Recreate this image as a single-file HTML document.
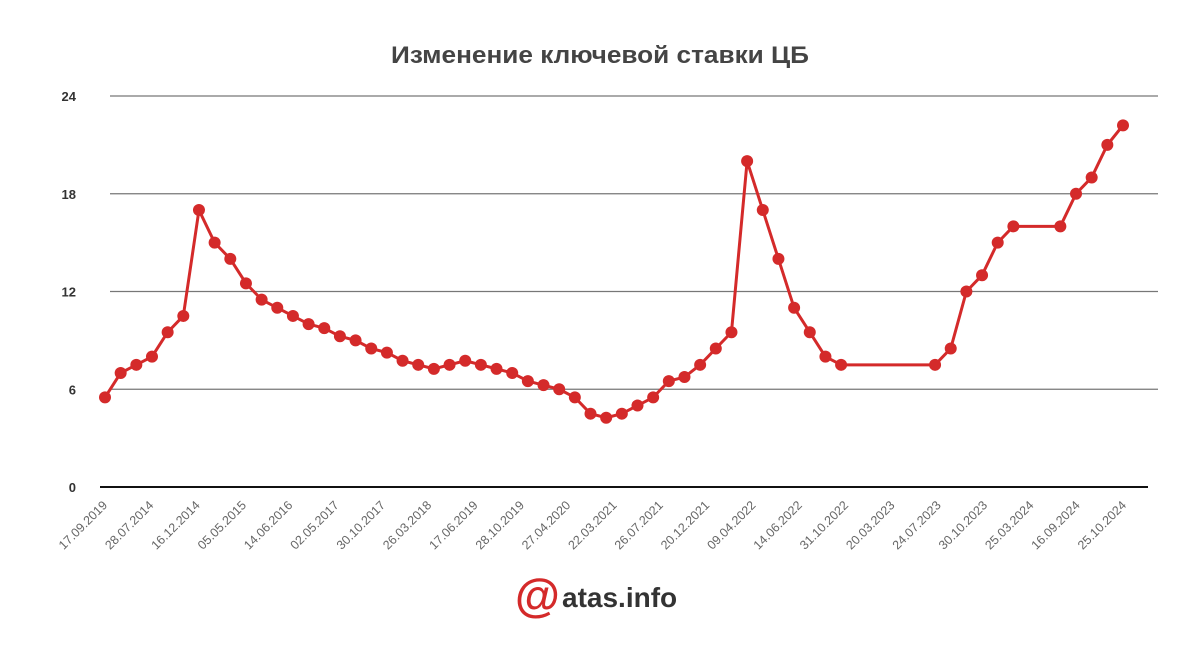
<!DOCTYPE html>
<html><head><meta charset="utf-8"><style>
body{margin:0;background:#fff;width:1200px;height:642px;overflow:hidden}
svg text{font-family:"Liberation Sans","DejaVu Sans",sans-serif}
</style></head><body>
<svg id="chart" width="1200" height="642" viewBox="0 0 1200 642" xmlns="http://www.w3.org/2000/svg">
<rect width="1200" height="642" fill="#fff"/>
<text x="600" y="63" text-anchor="middle" font-size="24" font-weight="bold" fill="#444" textLength="418" lengthAdjust="spacingAndGlyphs">Изменение ключевой ставки ЦБ</text>
<g id="grid"></g><g id="xlabels"></g><g id="series"></g>
<g>
<text x="515" y="611" font-size="46" font-weight="bold" fill="#d42a2a">@</text>
<text x="562" y="607" font-size="28" font-weight="bold" fill="#333">atas.info</text>
</g>
</svg>
<script>
const yTicks = [0, 6, 12, 18, 24];
const values = [5.5,7,7.5,8,9.5,10.5,17,15,14,12.5,11.5,11,10.5,10,9.75,9.25,9,8.5,8.25,7.75,7.5,7.25,7.5,7.75,7.5,7.25,7,6.5,6.25,6,5.5,4.5,4.25,4.5,5,5.5,6.5,6.75,7.5,8.5,9.5,20,17,14,11,9.5,8,7.5,null,null,null,null,null,7.5,8.5,12,13,15,16,null,null,16,18,19,21,22.2];
const xLabels = ["17.09.2019","28.07.2014","16.12.2014","05.05.2015","14.06.2016","02.05.2017","30.10.2017","26.03.2018","17.06.2019","28.10.2019","27.04.2020","22.03.2021","26.07.2021","20.12.2021","09.04.2022","14.06.2022","31.10.2022","20.03.2023","24.07.2023","30.10.2023","25.03.2024","16.09.2024","25.10.2024"];
const NS="http://www.w3.org/2000/svg";
const x0=105, x1=1123, y0=487, y1=96;
const xs=i=>x0+(x1-x0)*i/(values.length-1);
const ys=v=>y0-(y0-y1)*v/24;
function mk(tag,attrs,parent){const e=document.createElementNS(NS,tag);for(const k in attrs)e.setAttribute(k,attrs[k]);parent.appendChild(e);return e;}
const grid=document.getElementById('grid');
yTicks.forEach(t=>{
  const y=ys(t);
  const l=mk('line',{x1:t===0?100:110,x2:t===0?1148:1158,y1:y,y2:y,stroke:t===0?'#111':'#777','stroke-width':t===0?2:1.3},grid);
  
  
  const tx=mk('text',{x:76,y:y+5,'text-anchor':'end','font-size':13,'font-weight':'bold',fill:'#333'},grid);
  tx.textContent=t;
  
  
});
const xl=document.getElementById('xlabels');
const lx0=108, lx1=1127;
xLabels.forEach((s,i)=>{
  const x=lx0+(lx1-lx0)*i/(xLabels.length-1), y=506;
  const t=mk('text',{x:x,y:y,'text-anchor':'end','font-size':12.5,fill:'#666',transform:`rotate(-45 ${x} ${y})`},xl);
  t.textContent=s;
  
  
});
const se=document.getElementById('series');
const pts=[];values.forEach((v,i)=>{if(v!==null)pts.push([xs(i),ys(v)]);});
const pl=mk('polyline',{points:pts.map(p=>p.join(',')).join(' '),fill:'none',stroke:'#d42a2a','stroke-width':3,'stroke-linejoin':'round'},se);


values.forEach((v,i)=>{
  if(v===null)return;
  const c=mk('circle',{cx:xs(i),cy:ys(v),r:6,fill:'#d42a2a'},se);
  
  
});
</script>
</body></html>
